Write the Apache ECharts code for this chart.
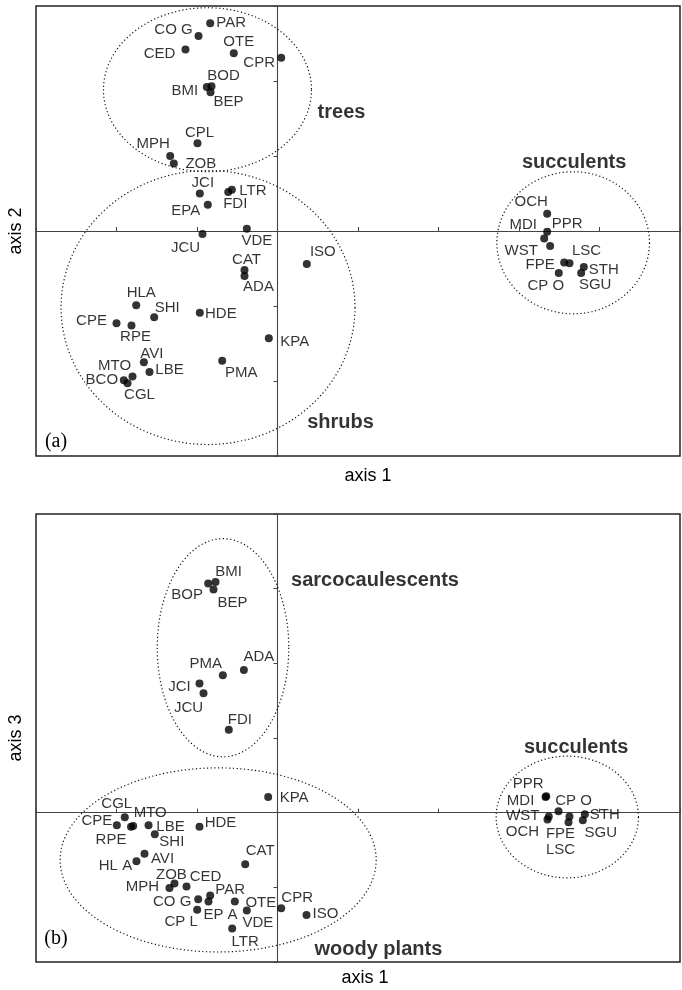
<!DOCTYPE html>
<html><head><meta charset="utf-8">
<script src="https://cdn.jsdelivr.net/npm/echarts@6/dist/echarts.min.js"></script>
<style>html,body{margin:0;padding:0;background:#fff}#c{width:682px;height:990px}</style>
</head><body><div id="c"></div>
<script>
// ---------- Panel (a): axis 1 vs axis 2 ----------
const namesA = ['PAR','CO G','CED','OTE','CPR','BOD','BMI','BEP','CPL','MPH','ZOB','JCI','LTR','FDI','EPA','VDE','JCU','ISO','CAT','ADA','HLA','SHI','HDE','CPE','RPE','KPA','AVI','PMA','MTO','LBE','BCO','CGL','OCH','PPR','MDI','WST','FPE','LSC','CP O','STH','SGU'];
const axis1A = [-0.836,-0.981,-1.143,-0.543,0.046,-0.820,-0.878,-0.832,-0.994,-1.333,-1.288,-0.965,-0.567,-0.612,-0.866,-0.381,-0.932,0.364,-0.410,-0.410,-1.755,-1.532,-0.965,-2.000,-1.814,-0.108,-1.660,-0.687,-1.801,-1.590,-1.909,-1.863,3.350,3.350,3.313,3.387,3.561,3.627,3.494,3.805,3.772];
const axis2A = [2.77,2.60,2.42,2.37,2.31,1.93,1.92,1.85,1.17,1.00,0.90,0.50,0.55,0.52,0.35,0.03,-0.04,-0.44,-0.52,-0.60,-0.99,-1.15,-1.09,-1.23,-1.26,-1.43,-1.75,-1.73,-1.94,-1.88,-1.99,-2.03,0.23,-0.01,-0.10,-0.20,-0.42,-0.43,-0.56,-0.48,-0.56];

// ---------- Panel (b): axis 1 vs axis 3 ----------
const namesB = ['BMI','BOP','BEP','ADA','PMA','JCI','JCU','FDI','KPA','CGL','MTO','CPE','RPE','LBE','SHI','HDE','AVI','HL A','CAT','ZOB','MPH','CED','PAR','CO G','EP A','OTE','CP L','VDE','CPR','ISO','LTR','PPR','MDI','CP O','WST','OCH','FPE','LSC','STH','SGU'];
const axis1B = [-0.770,-0.861,-0.795,-0.418,-0.679,-0.969,-0.919,-0.605,-0.116,-1.897,-1.793,-1.996,-1.820,-1.602,-1.524,-0.969,-1.652,-1.752,-0.401,-1.280,-1.342,-1.130,-0.836,-0.985,-0.857,-0.530,-0.998,-0.381,0.046,0.360,-0.563,3.338,3.330,3.491,3.370,3.354,3.627,3.615,3.818,3.793];
const axis3B = [3.09,3.07,2.99,1.91,1.84,1.73,1.60,1.11,0.21,-0.06,-0.18,-0.17,-0.19,-0.17,-0.29,-0.19,-0.55,-0.65,-0.69,-0.95,-1.01,-0.99,-1.11,-1.16,-1.19,-1.19,-1.30,-1.31,-1.28,-1.37,-1.55,0.22,0.21,0.02,-0.05,-0.09,-0.05,-0.13,-0.02,-0.10];

// Group ellipses: centre (axis units) and radii (axis units)
const groupsA = ['trees','shrubs','succulents'];
const ellCxA = [-0.870,-0.863,3.673];
const ellCyA = [1.884,-1.020,-0.157];
const ellRxA = [1.292,1.826,0.948];
const ellRyA = [1.093,1.827,0.947];
const groupsB = ['sarcocaulescents','woody plants','succulents'];
const ellCxB = [-0.677,-0.737,3.600];
const ellCyB = [2.209,-0.633,-0.058];
const ellRxB = [0.817,1.963,0.884];
const ellRyB = [1.461,1.233,0.815];

// Group label anchors (axis units)
const grpLabXA = [0.795,0.783,3.685];
const grpLabYA = [1.583,-2.551,0.916];
const grpLabXB = [1.211,1.253,3.710];
const grpLabYB = [3.113,-1.834,0.878];

// Label placement (pixel offsets of label centre from the point)
const offA = {'PAR':[21,0],'CO G':[-25,-6],'CED':[-26,4],'OTE':[5,-11],'CPR':[-22,5],'BOD':[12,-10],'BMI':[-22,4],'BEP':[18,10],'CPL':[2,-10],'MPH':[-17,-12],'ZOB':[27,0],'JCI':[3,-11],'LTR':[21,1],'FDI':[7,12],'EPA':[-22,6],'VDE':[10,12],'JCU':[-17,14],'ISO':[16,-12],'CAT':[2,-10],'ADA':[14,11],'HLA':[5,-12],'SHI':[13,-9],'HDE':[21,1],'CPE':[-25,-2],'RPE':[4,11],'KPA':[26,4],'AVI':[8,-8],'PMA':[19,12],'MTO':[-18,-11],'LBE':[20,-2],'BCO':[-22,0],'CGL':[12,12],'OCH':[-16,-12],'PPR':[20,-8],'MDI':[-21,-14],'WST':[-29,5],'FPE':[-24,2],'LSC':[17,-12],'CP O':[-13,13],'STH':[20,3],'SGU':[14,12]};
const offB = {'BMI':[13,-10],'BOP':[-21,11],'BEP':[19,13],'ADA':[15,-13],'PMA':[-17,-11],'JCI':[-20,3],'JCU':[-15,15],'FDI':[11,-10],'KPA':[26,1],'CGL':[-8,-13],'MTO':[17,-13],'CPE':[-20,-5],'RPE':[-20,13],'LBE':[22,1],'SHI':[17,8],'HDE':[21,-4],'AVI':[18,5],'HL A':[-21,5],'CAT':[15,-13],'ZOB':[-3,-9],'CED':[19,-10],'MPH':[-27,-1],'PAR':[20,-6],'CO G':[-26,3],'EP A':[12,13],'OTE':[26,1],'CP L':[-16,12],'VDE':[11,12],'CPR':[16,-10],'ISO':[19,-1],'LTR':[13,13],'PPR':[-18,-12],'MDI':[-25,4],'CP O':[15,-10],'WST':[-26,-1],'OCH':[-25,12],'FPE':[-9,17],'LSC':[-8,27],'STH':[20,1],'SGU':[18,13]};

const FONT = '"Liberation Sans", Arial, Helvetica, sans-serif';
const INK = '#000';

function pointData(names, xs, ys, offs){
  return names.map((n,i)=>({value:[xs[i],ys[i]], name:n, label:{offset:offs[n]||[18,0]}}));
}
function ellData(cx,cy,rx,ry){ return cx.map((c,i)=>[c,cy[i],rx[i],ry[i]]); }
function grpData(names,xs,ys){ return names.map((n,i)=>({value:[xs[i],ys[i]], name:n})); }

function renderEllipse(params, api){
  const c = api.coord([api.value(0), api.value(1)]);
  const s = api.size([api.value(2), api.value(3)]);
  const pts = [];
  const N = 200;
  for (let i=0;i<N;i++){ const t=i/N*2*Math.PI; pts.push([c[0]+s[0]*Math.cos(t), c[1]+s[1]*Math.sin(t)]); }
  return {type:'polygon', silent:true, shape:{points:pts},
    style:{fill:null, stroke:'#111', lineWidth:1.2, lineDash:[1.2,2.5]}};
}

function xAx(gi){
  return {type:'value', gridIndex:gi, min:-3, max:5, interval:1,
    axisLine:{onZero:true, lineStyle:{color:'#444', width:1.1}},
    axisTick:{show:true, inside:true, length:4, lineStyle:{color:'#444', width:1}},
    axisLabel:{show:false}, splitLine:{show:false}};
}
function yAx(gi,mn,mx){
  return {type:'value', gridIndex:gi, min:mn, max:mx, interval:1, position:'right',
    axisLine:{onZero:true, lineStyle:{color:'#444', width:1.1}},
    axisTick:{show:true, inside:true, length:4, lineStyle:{color:'#444', width:1}},
    axisLabel:{show:false}, splitLine:{show:false}};
}

function panelSeries(idx, pts, ells, grps){
  return [
    {type:'custom', xAxisIndex:idx, yAxisIndex:idx, renderItem:renderEllipse, data:ells,
     encode:{x:0,y:1}, silent:true, z:1},
    {type:'scatter', xAxisIndex:idx, yAxisIndex:idx, data:pts, symbol:'circle', symbolSize:8,
     itemStyle:{color:'#000'}, z:3,
     label:{show:true, position:'inside', align:'center', verticalAlign:'middle', formatter:'{b}',
       fontFamily:FONT, fontSize:15, color:INK, textBorderWidth:0}},
    {type:'scatter', xAxisIndex:idx, yAxisIndex:idx, data:grps, symbolSize:1,
     itemStyle:{color:'rgba(0,0,0,0)'}, z:4, silent:true,
     label:{show:true, position:'inside', align:'center', verticalAlign:'middle', formatter:'{b}',
       fontFamily:FONT, fontSize:20, fontWeight:'bold', color:INK, textBorderWidth:0}}
  ];
}

const chart = echarts.init(document.getElementById('c'), null, {renderer:'canvas'});
chart.setOption({
  animation:false,
  backgroundColor:'#fff',
  grid:[
    {left:36, top:6, width:644, height:450, show:true, borderColor:'#222', borderWidth:1.5, outerBoundsMode:'none'},
    {left:36, top:514, width:644, height:448, show:true, borderColor:'#222', borderWidth:1.5, outerBoundsMode:'none'}
  ],
  xAxis:[xAx(0), xAx(1)],
  yAxis:[yAx(0,-3,3), yAx(1,-2,4)],
  graphic:[
    {type:'text', x:368, y:476, style:{text:'axis 1', font:'18px '+FONT, fill:INK, align:'center', verticalAlign:'middle'}},
    {type:'text', x:365, y:978, style:{text:'axis 1', font:'18px '+FONT, fill:INK, align:'center', verticalAlign:'middle'}},
    {type:'text', x:16, y:231, rotation:Math.PI/2, style:{text:'axis 2', font:'18px '+FONT, fill:INK, align:'center', verticalAlign:'middle'}},
    {type:'text', x:16, y:738, rotation:Math.PI/2, style:{text:'axis 3', font:'18px '+FONT, fill:INK, align:'center', verticalAlign:'middle'}},
    {type:'text', x:56, y:442, style:{text:'(a)', font:'20px "Liberation Serif", "Times New Roman", serif', fill:INK, align:'center', verticalAlign:'middle'}},
    {type:'text', x:56, y:939, style:{text:'(b)', font:'20px "Liberation Serif", "Times New Roman", serif', fill:INK, align:'center', verticalAlign:'middle'}}
  ],
  series:[].concat(
    panelSeries(0, pointData(namesA,axis1A,axis2A,offA), ellData(ellCxA,ellCyA,ellRxA,ellRyA), grpData(groupsA,grpLabXA,grpLabYA)),
    panelSeries(1, pointData(namesB,axis1B,axis3B,offB), ellData(ellCxB,ellCyB,ellRxB,ellRyB), grpData(groupsB,grpLabXB,grpLabYB))
  )
});
</script></body></html>
